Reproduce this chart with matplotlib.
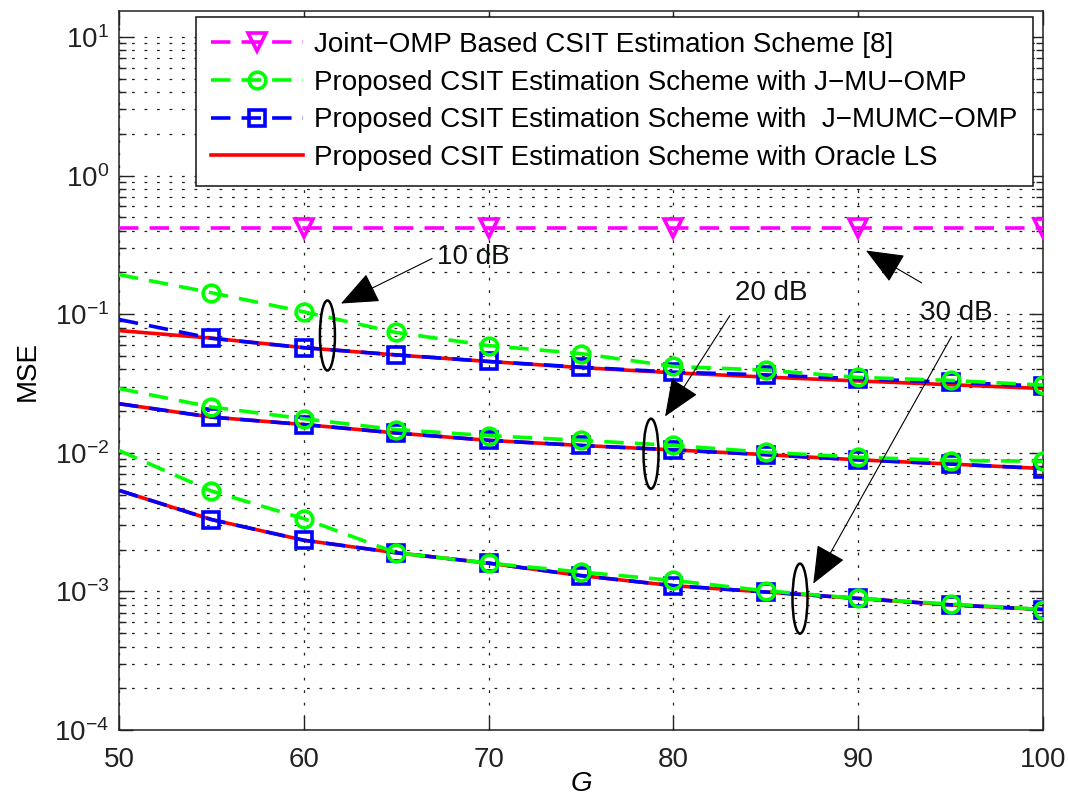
import numpy as np
import matplotlib
matplotlib.use("Agg")
import matplotlib.pyplot as plt
from matplotlib.patches import Ellipse

plt.rcParams['font.family'] = ['Liberation Sans', 'DejaVu Sans']
plt.rcParams['mathtext.fontset'] = 'custom'
plt.rcParams['mathtext.rm'] = 'Liberation Sans'
plt.rcParams['mathtext.it'] = 'Liberation Sans:italic'
plt.rcParams['lines.scale_dashes'] = False

# ---- data ----
G = [50, 55, 60, 65, 70, 75, 80, 85, 90, 95, 100]
G_joint = [50, 60, 70, 80, 90, 100]
mse_joint = [0.42, 0.42, 0.42, 0.42, 0.42, 0.42]

mu_10 = [0.193, 0.143, 0.104, 0.0738, 0.0594, 0.052, 0.042, 0.0395, 0.035, 0.0333, 0.0308]
mumc_10 = [0.0916, 0.067, 0.0573, 0.0509, 0.0456, 0.0415, 0.0382, 0.0365, 0.0342, 0.0323, 0.0303]
ls_10 = [0.0762, 0.0672, 0.0574, 0.0508, 0.0456, 0.0412, 0.0378, 0.0352, 0.0330, 0.0310, 0.0291]

mu_20 = [0.0291, 0.0214, 0.0176, 0.0147, 0.0133, 0.0123, 0.0113, 0.0101, 0.0093, 0.0088, 0.0087]
mumc_20 = [0.0226, 0.0181, 0.0160, 0.0139, 0.0123, 0.0113, 0.0105, 0.0097, 0.0089, 0.0083, 0.0077]
ls_20 = [0.0226, 0.0181, 0.0160, 0.0139, 0.0123, 0.0113, 0.0105, 0.0097, 0.0089, 0.0083, 0.0077]

mu_30 = [0.0104, 0.0053, 0.00335, 0.0019, 0.0016, 0.00138, 0.0012, 0.00101, 0.00089, 0.00081, 0.00074]
mumc_30 = [0.00536, 0.0033, 0.00234, 0.0019, 0.0016, 0.0013, 0.0011, 0.00099, 0.00089, 0.0008, 0.00074]
ls_30 = [0.00536, 0.0033, 0.00234, 0.0019, 0.0016, 0.0013, 0.0011, 0.00099, 0.00089, 0.0008, 0.00074]

labels = ['Joint\u2212OMP Based CSIT Estimation Scheme [8]',
          'Proposed CSIT Estimation Scheme with J\u2212MU\u2212OMP',
          'Proposed CSIT Estimation Scheme with  J\u2212MUMC\u2212OMP',
          'Proposed CSIT Estimation Scheme with Oracle LS']
xticks = [50, 60, 70, 80, 90, 100]

# ---- figure ----
fig = plt.figure(figsize=(10.68, 7.98), dpi=100)
ax = fig.add_axes([0.1114, 0.0852, 0.8652, 0.901])

FS = 20
lw = 2.6
dash = (14, 8)
ms = 11.5
mew = 2.6

hs = {}
for k, (mu, mumc, ls) in enumerate([(mu_10, mumc_10, ls_10), (mu_20, mumc_20, ls_20), (mu_30, mumc_30, ls_30)]):
    hr, = ax.plot(G, ls, '-', color='#ff0000', lw=lw, zorder=3)
    hb, = ax.plot(G, mumc, '--', color='#0000ff', lw=lw, dashes=dash, zorder=4,
                  marker='s', ms=ms, mfc='none', mec='#0000ff', mew=mew, markevery=list(range(1, len(G))))
    hg, = ax.plot(G, mu, '--', color='#00ff00', lw=lw, dashes=dash, zorder=5,
                  marker='o', ms=ms + 0.5, mfc='none', mec='#00ff00', mew=mew, markevery=list(range(1, len(G))))
    hs = dict(r=hr, b=hb, g=hg)

hm, = ax.plot(G_joint, mse_joint, '--', color='#ff00ff', lw=lw, dashes=dash, zorder=6,
              marker='v', ms=ms + 1.5, mfc='none', mec='#ff00ff', mew=mew, markevery=list(range(1, len(G_joint))))

ax.set_yscale('log')
ax.set_xlim(50, 100)
ax.set_ylim(1e-4, 15.4)
ax.set_xticks(xticks)
ax.set_yticks([1e-4, 1e-3, 1e-2, 1e-1, 1e0, 1e1])

ax.tick_params(which='both', direction='in', top=True, right=True, labelsize=FS, colors='#222222')
ax.tick_params(which='major', length=10, width=1.0)
ax.tick_params(which='minor', length=5, width=1.0)
ax.tick_params(axis='x', pad=12)
ax.tick_params(axis='y', pad=7)
for s in ax.spines.values():
    s.set_linewidth(1.1)
    s.set_color('#222222')

ax.grid(True, which='major', axis='both', color='#222222', lw=0.9, linestyle=(0, (2, 7)))
ax.grid(True, which='minor', axis='y', color='#222222', lw=0.9, linestyle=(0, (2, 7)))
ax.set_axisbelow(True)

ax.set_xlabel('$G$', fontsize=FS, labelpad=-1)
ax.set_ylabel('MSE', fontsize=FS, labelpad=10)

leg = ax.legend([hm, hs['g'], hs['b'], hs['r']], labels, loc='upper right',
                bbox_to_anchor=(0.989, 0.992), fontsize=FS, frameon=True, fancybox=False,
                edgecolor='#111111', framealpha=1.0, handlelength=3.3, handletextpad=0.4,
                borderpad=0.55, borderaxespad=0.0, labelspacing=0.42)
leg.get_frame().set_linewidth(1.1)
leg.set_zorder(10)

# annotations
txt_kw = dict(fontsize=FS, ha='left', va='center', color='#111111', zorder=8)
ax.text(67.2, 0.26, '10 dB', **txt_kw)
ax.text(83.33, 0.1433, '20 dB', **txt_kw)
ax.text(93.34, 0.1028, '30 dB', **txt_kw)

ap = dict(arrowstyle='-|>,head_length=1.2,head_width=0.5', color='black', lw=0.8,
          mutation_scale=20, shrinkA=0, shrinkB=0)
ax.annotate('', xy=(62.01, 0.1194), xytext=(66.94, 0.252), arrowprops=ap, zorder=8)
ax.annotate('', xy=(79.55, 0.0183), xytext=(83.06, 0.0979), arrowprops=ap, zorder=8)
ax.annotate('', xy=(87.57, 0.001138), xytext=(95.05, 0.0691), arrowprops=ap, zorder=8)
ax.annotate('', xy=(90.42, 0.288), xytext=(93.43, 0.1684), arrowprops=ap, zorder=8)

fig.canvas.draw()
for gx, gy in [(61.28, 0.0702), (78.79, 0.00985), (86.85, 0.000887)]:
    cx, cy = ax.transAxes.inverted().transform(ax.transData.transform((gx, gy)))
    e = Ellipse((cx, cy), width=15 / 924, height=70 / 719, transform=ax.transAxes,
                fill=False, ec='black', lw=1.8, zorder=9)
    ax.add_patch(e)

fig.savefig('out.png', dpi=100)
